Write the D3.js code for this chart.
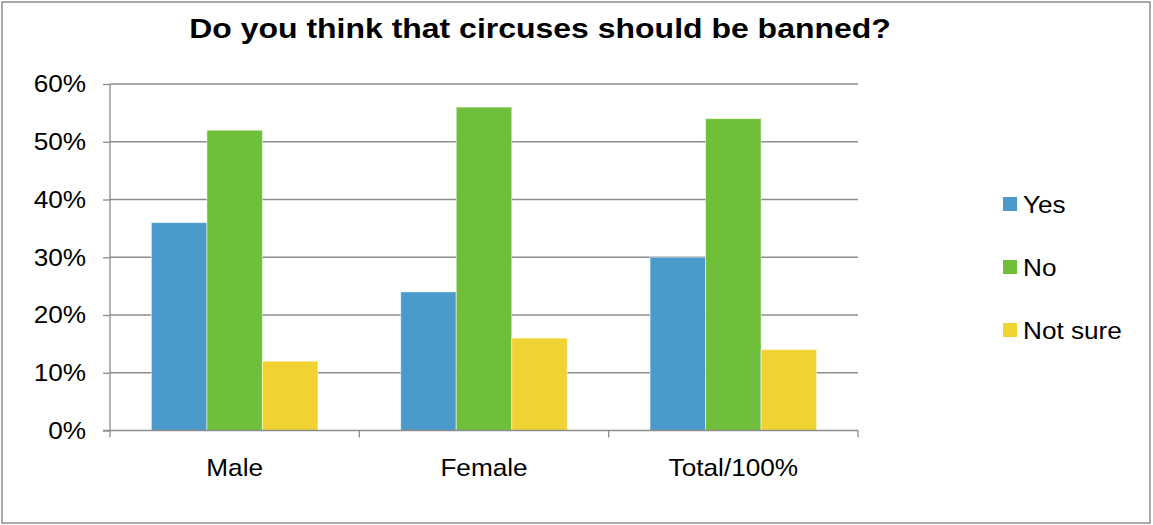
<!DOCTYPE html>
<html><head><meta charset="utf-8">
<script src="https://cdn.jsdelivr.net/npm/d3@7"></script>
<style>body{margin:0;background:#fff}svg{display:block}text{font-family:"Liberation Sans",Arial,sans-serif}</style>
</head><body>
<svg id="c" width="1153" height="525"></svg>
<script>
const categories = ["Male", "Female", "Total/100%"];
const seriesNames = ["Yes", "No", "Not sure"];
const yesValues = [0.36, 0.24, 0.30];
const noValues = [0.52, 0.56, 0.54];
const notSureValues = [0.12, 0.16, 0.14];
const yTicks = [0, 0.1, 0.2, 0.3, 0.4, 0.5, 0.6];
const colors = ["#4a9bcb", "#70bf3b", "#f0d232"];
const title = "Do you think that circuses should be banned?";

const SX = 1.1; // horizontal text stretch seen in the reference
const FS = 23.8;
const series = [yesValues, noValues, notSureValues];
const svg = d3.select("#c");
svg.append("rect").attr("x", 2).attr("y", 2).attr("width", 1148).attr("height", 521)
  .attr("fill", "#fff").attr("stroke", "#8c8c8c").attr("stroke-width", 1.5);

const L = 110, R = 858, T = 84, B = 430.5;
const x0 = d3.scaleBand().domain(categories).range([L, R]).paddingInner(0.332).paddingOuter(0.166);
const x1 = d3.scaleBand().domain(seriesNames).range([0, x0.bandwidth()]);
const y = d3.scaleLinear().domain([0, 0.6]).range([B, T]);

// gridlines
svg.append("g").selectAll("line").data(yTicks.slice(1)).join("line")
  .attr("x1", L).attr("x2", R).attr("y1", d => y(d)).attr("y2", d => y(d))
  .attr("stroke", "#8c8c8c").attr("stroke-width", 1.3);

// y axis
const yAxis = svg.append("g").attr("transform", `translate(${L},0)`)
  .call(d3.axisLeft(y).tickValues(yTicks).tickFormat("").tickSize(7));
yAxis.select(".domain").attr("stroke", "#8c8c8c").attr("stroke-width", 1.3).attr("d", `M-0,${T}V${B}`);
yAxis.selectAll(".tick line").attr("stroke", "#8c8c8c").attr("stroke-width", 1.3);
const fmt = d3.format(".0%");
svg.append("g").selectAll("text").data(yTicks).join("text")
  .attr("transform", d => `translate(86,${y(d) + 8.3}) scale(${SX},1)`)
  .attr("text-anchor", "end").attr("font-size", FS).attr("fill", "#000").text(d => fmt(d));

// bars
const groups = svg.append("g").selectAll("g").data(categories).join("g")
  .attr("transform", d => `translate(${x0(d)},0)`);
groups.selectAll("rect").data((c, i) => seriesNames.map((s, j) => ({s, v: series[j][i], j}))).join("rect")
  .attr("x", d => x1(d.s)).attr("width", x1.bandwidth())
  .attr("y", d => y(d.v)).attr("height", d => B - y(d.v))
  .attr("fill", d => colors[d.j]).attr("stroke", "rgba(255,255,255,0.5)").attr("stroke-width", 1);

// x axis
const xAxisScale = d3.scaleLinear().domain([0, 3]).range([L, R]);
const xg = svg.append("g").attr("transform", `translate(0,${B})`);
xg.append("line").attr("x1", L - 7).attr("x2", R).attr("y1", 0).attr("y2", 0).attr("stroke", "#8c8c8c").attr("stroke-width", 1.3);
xg.selectAll(".tk").data([0, 1, 2, 3]).join("line").attr("class", "tk")
  .attr("x1", d => xAxisScale(d)).attr("x2", d => xAxisScale(d)).attr("y1", 0).attr("y2", 7)
  .attr("stroke", "#8c8c8c").attr("stroke-width", 1.3);
xg.selectAll("text").data(categories).join("text")
  .attr("transform", d => `translate(${x0(d) + x0.bandwidth() / 2},${45.5}) scale(${SX},1)`)
  .attr("text-anchor", "middle").attr("font-size", FS).attr("fill", "#000").text(d => d);

// title
svg.append("text").attr("transform", `translate(540,37.5) scale(1.13,1)`).attr("text-anchor", "middle")
  .attr("font-size", 28.3).attr("font-weight", "bold").attr("fill", "#000").text(title);

// legend
const lg = svg.append("g").selectAll("g").data(seriesNames).join("g")
  .attr("transform", (d, i) => `translate(1003,${204 + i * 63})`);
lg.append("rect").attr("x", 0).attr("y", -7).attr("width", 14).attr("height", 14).attr("fill", (d, i) => colors[i]);
lg.append("text").attr("transform", `translate(20,8.5) scale(${SX},1)`).attr("font-size", FS).attr("fill", "#000").text(d => d);
</script>
</body></html>
